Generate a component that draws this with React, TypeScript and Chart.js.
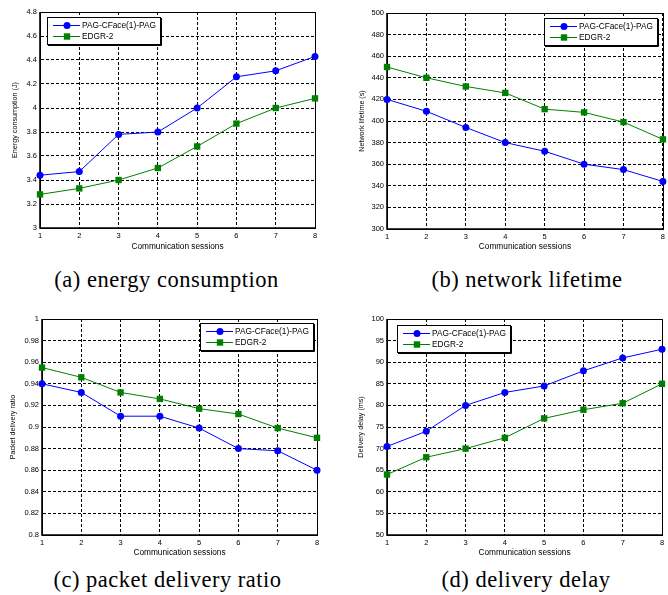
import React, { useEffect, useRef } from "react";
import { Chart, registerables } from "chart.js";

Chart.register(...registerables);

const sessions = ["1", "2", "3", "4", "5", "6", "7", "8"];
const seriesNames = ["PAG-CFace(1)-PAG", "EDGR-2"];
const xTitle = "Communication sessions";

const energyPag = [3.44, 3.47, 3.78, 3.8, 4.0, 4.26, 4.31, 4.43];
const energyEdgr = [3.28, 3.33, 3.4, 3.5, 3.68, 3.87, 4.0, 4.08];

const lifetimePag = [420, 409, 394, 380, 372, 360, 355, 344];
const lifetimeEdgr = [450, 440, 432, 426, 411, 408, 399, 383];

const ratioPag = [0.94, 0.932, 0.91, 0.91, 0.899, 0.88, 0.878, 0.86];
const ratioEdgr = [0.955, 0.946, 0.932, 0.926, 0.917, 0.912, 0.899, 0.89];

const delayPag = [70.5, 74, 80, 83, 84.5, 88, 91, 93];
const delayEdgr = [64, 68, 70, 72.5, 77, 79, 80.5, 85];

const BLUE = "#0000ff";
const GREEN = "#008000";
const FONT = "'Liberation Sans', Arial, sans-serif";

type Panel = {
  left: number;
  top: number;
  width: number;
  height: number;
  area: { l: number; r: number; t: number; b: number };
  yTitle: string;
  yTitleX: number;
  yMin: number;
  yMax: number;
  yStep: number;
  a: number[];
  b: number[];
  legend: { side: "left" | "right"; dx: number; dy: number };
};

const framePlugin = {
  id: "frame",
  beforeDatasetsDraw(chart: any) {
    const { ctx, chartArea: c } = chart;
    ctx.save();
    ctx.strokeStyle = "#000";
    ctx.lineWidth = 1;
    ctx.strokeRect(Math.round(c.left) + 0.5, Math.round(c.top) + 0.5, Math.round(c.right - c.left), Math.round(c.bottom - c.top));
    ctx.lineWidth = 1.6;
    ctx.beginPath();
    ctx.moveTo(c.left, c.top);
    ctx.lineTo(c.left, c.bottom);
    ctx.lineTo(c.right, c.bottom);
    ctx.stroke();
    ctx.restore();
  },
};

const legendPlugin = {
  id: "boxLegend",
  afterDraw(chart: any, _args: any, opts: any) {
    const { ctx, chartArea } = chart;
    ctx.save();
    ctx.font = `8.3px ${FONT}`;
    const texts: string[] = chart.data.datasets.map((d: any) => d.label);
    const tw = Math.max(...texts.map((t) => ctx.measureText(t).width));
    const w = Math.round(35 + tw + 4);
    const h = 27;
    const x0 = Math.round(opts.side === "left" ? chartArea.left + opts.dx : chartArea.right - opts.dx - w);
    const y0 = Math.round(chartArea.top + opts.dy);
    ctx.fillStyle = "#fff";
    ctx.fillRect(x0, y0, w, h);
    ctx.strokeStyle = "#000";
    ctx.lineWidth = 1;
    ctx.strokeRect(x0 + 0.5, y0 + 0.5, w, h);
    ctx.beginPath();
    ctx.moveTo(x0 + w + 1.5, y0 + 1);
    ctx.lineTo(x0 + w + 1.5, y0 + h + 1.5);
    ctx.lineTo(x0 + 1, y0 + h + 1.5);
    ctx.stroke();
    chart.data.datasets.forEach((ds: any, i: number) => {
      const yy = y0 + 8.5 + i * 11;
      ctx.strokeStyle = ds.borderColor;
      ctx.fillStyle = ds.backgroundColor;
      ctx.lineWidth = 1;
      ctx.beginPath();
      ctx.moveTo(x0 + 6, yy);
      ctx.lineTo(x0 + 33, yy);
      ctx.stroke();
      const mx = x0 + 20;
      if (ds.pointStyle === "circle") {
        ctx.beginPath();
        ctx.arc(mx, yy, 3.5, 0, Math.PI * 2);
        ctx.fill();
      } else {
        ctx.fillRect(mx - 3.2, yy - 3.2, 6.4, 6.4);
      }
      ctx.fillStyle = "#000";
      ctx.textBaseline = "middle";
      ctx.textAlign = "left";
      ctx.fillText(ds.label, x0 + 35, yy + 0.5);
    });
    ctx.restore();
  },
};

const fmt = (v: any) => String(Number(Number(v).toFixed(4)));

function PanelChart({ p }: { p: Panel }) {
  const ref = useRef<HTMLCanvasElement | null>(null);
  useEffect(() => {
    if (!ref.current) return;
    const chart = new Chart(ref.current, {
      type: "line",
      data: {
        labels: sessions,
        datasets: [
          {
            label: seriesNames[0],
            data: p.a,
            borderColor: BLUE,
            backgroundColor: BLUE,
            pointStyle: "circle",
            pointRadius: 3.5,
            pointBorderWidth: 0,
            borderWidth: 1,
            tension: 0,
            clip: false as any,
          },
          {
            label: seriesNames[1],
            data: p.b,
            borderColor: GREEN,
            backgroundColor: GREEN,
            pointStyle: "rect",
            pointRadius: 4.5,
            pointBorderWidth: 0,
            borderWidth: 1,
            tension: 0,
            clip: false as any,
          },
        ],
      },
      options: {
        animation: false,
        responsive: false,
        maintainAspectRatio: false,
        events: [],
        layout: { padding: { left: 0, top: p.area.t, right: p.width - p.area.r, bottom: 0 } },
        plugins: {
          legend: { display: false },
          tooltip: { enabled: false },
          boxLegend: p.legend,
        } as any,
        scales: {
          x: {
            type: "category",
            offset: false,
            grid: { color: "#000", lineWidth: 1, drawTicks: false },
            border: { display: true, color: "#000", dash: [3, 2] },
            ticks: { color: "#000", font: { family: FONT, size: 7.5 }, padding: 3, maxRotation: 0, autoSkip: false },
            title: {
              display: true,
              text: xTitle,
              color: "#000",
              font: { family: FONT, size: 8.3 },
              padding: { top: 0, bottom: 6 },
            },
            afterFit: (s: any) => {
              s.height = p.height - p.area.b;
            },
          },
          y: {
            type: "linear",
            min: p.yMin,
            max: p.yMax,
            grid: { color: "#000", lineWidth: 1, drawTicks: false },
            border: { display: true, color: "#000", dash: [3, 2] },
            ticks: {
              color: "#000",
              font: { family: FONT, size: 7.5 },
              padding: 3,
              stepSize: p.yStep,
              autoSkip: false,
              callback: fmt,
            },
            title: {
              display: true,
              text: p.yTitle,
              color: "#000",
              font: { family: FONT, size: 7.2 },
              padding: { top: p.yTitleX - 4.3, bottom: 0 },
            },
            afterFit: (s: any) => {
              s.width = p.area.l;
            },
          },
        },
      } as any,
      plugins: [framePlugin, legendPlugin],
    });
    return () => chart.destroy();
  }, [p]);
  return (
    <canvas
      ref={ref}
      width={p.width}
      height={p.height}
      style={{ position: "absolute", left: p.left, top: p.top, width: p.width, height: p.height }}
    />
  );
}

const panels: Panel[] = [
  {
    left: 0, top: 0, width: 334, height: 258,
    area: { l: 40, r: 315, t: 12, b: 228 },
    yTitle: "Energy consumption (J)", yTitleX: 15,
    yMin: 3, yMax: 4.8, yStep: 0.2,
    a: energyPag, b: energyEdgr,
    legend: { side: "left", dx: 7, dy: 5 },
  },
  {
    left: 334, top: 0, width: 334, height: 258,
    area: { l: 53, r: 330, t: 13, b: 229 },
    yTitle: "Network lifetime (s)", yTitleX: 28,
    yMin: 300, yMax: 500, yStep: 20,
    a: lifetimePag, b: lifetimeEdgr,
    legend: { side: "right", dx: 6, dy: 5 },
  },
  {
    left: 0, top: 300, width: 334, height: 264,
    area: { l: 42, r: 317, t: 19, b: 235 },
    yTitle: "Packet delivery ratio", yTitleX: 13,
    yMin: 0.8, yMax: 1, yStep: 0.02,
    a: ratioPag, b: ratioEdgr,
    legend: { side: "right", dx: 4, dy: 4 },
  },
  {
    left: 334, top: 300, width: 334, height: 264,
    area: { l: 53, r: 328, t: 19, b: 235 },
    yTitle: "Delivery delay (ms)", yTitleX: 27,
    yMin: 50, yMax: 100, yStep: 5,
    a: delayPag, b: delayEdgr,
    legend: { side: "left", dx: 10, dy: 6 },
  },
];

const captions = [
  { text: "(a) energy consumption", cx: 166.5, top: 266 },
  { text: "(b) network lifetime", cx: 527, top: 266 },
  { text: "(c) packet delivery ratio", cx: 167.5, top: 566 },
  { text: "(d) delivery delay", cx: 526, top: 566 },
];

export default function App() {
  return (
    <div style={{ position: "absolute", left: 0, top: 0, width: 668, height: 595, background: "#fff", overflow: "hidden" }}>
      {panels.map((p, i) => (
        <PanelChart key={i} p={p} />
      ))}
      {captions.map((c, i) => (
        <div
          key={i}
          style={{
            position: "absolute",
            left: c.cx - 160,
            width: 320,
            textAlign: "center",
            top: c.top,
            fontFamily: "'Liberation Serif', 'Times New Roman', serif",
            fontSize: 22.5,
            letterSpacing: "0.5px",
            lineHeight: "28px",
            whiteSpace: "nowrap",
            color: "#000",
          }}
        >
          {c.text}
        </div>
      ))}
    </div>
  );
}
